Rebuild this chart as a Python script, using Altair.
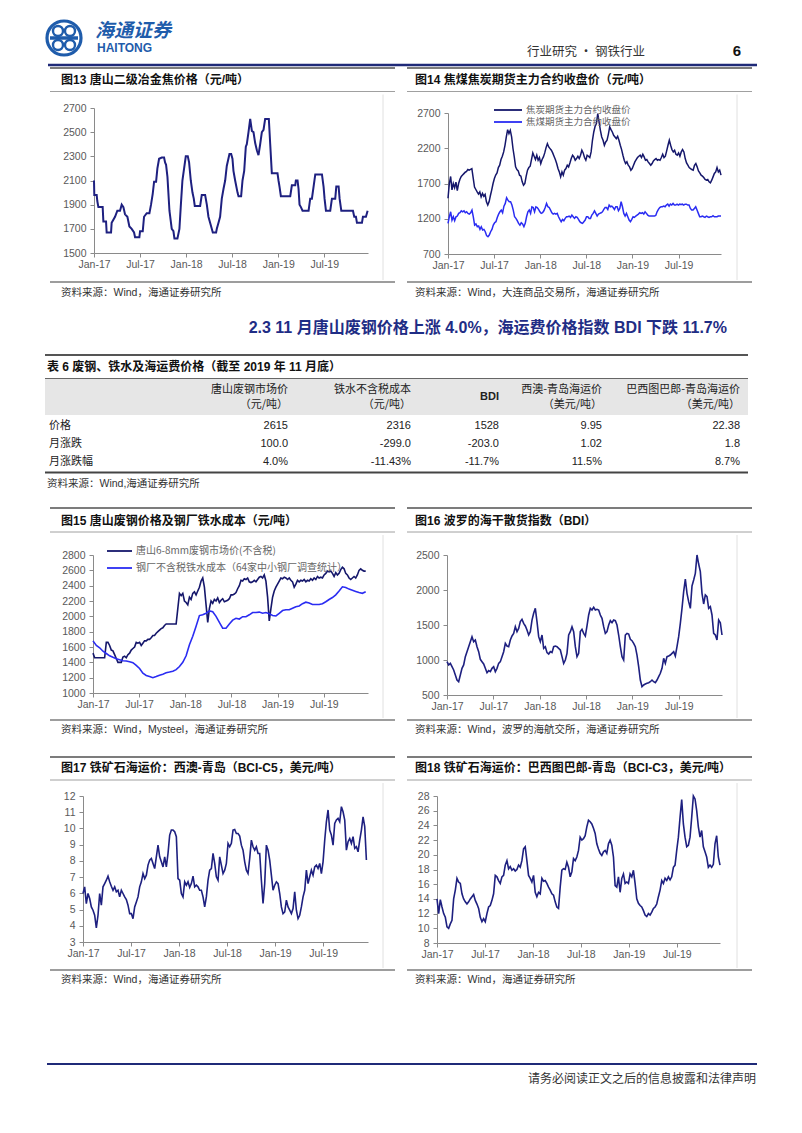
import altair as alt
import pandas as pd
import numpy as np

FONT = "Liberation Sans, Noto Sans CJK SC"
CJK = "Noto Sans CJK SC"
ONE = pd.DataFrame({"k": [0]})

# ---------------- data ----------------
TICK_MONTHS = [0, 6, 12, 18, 24, 30]
TICK_LABELS = ["Jan-17", "Jul-17", "Jan-18", "Jul-18", "Jan-19", "Jul-19"]

# Fig 13: months since Jan-2017, price
c13_month = [0, 0.04, 0.35, 0.43, 0.57, 1.13, 1.22, 1.57, 1.65, 2.22,
             2.30, 2.74, 3.04, 3.39, 3.61, 3.83, 4.04, 4.35, 4.61, 4.91,
             5.22, 5.35, 5.91, 6.00, 6.35, 6.52, 6.87, 7.22, 7.43, 7.65,
             7.83, 8.09, 8.26, 8.48, 8.83, 9.13, 9.26, 9.39, 9.57, 9.83,
             10.13, 10.35, 10.48, 10.87, 11.13, 11.30, 11.52, 11.74, 11.96, 12.22,
             12.39, 12.61, 12.83, 13.00, 13.13, 13.83, 14.04, 14.48, 14.70, 14.91,
             15.22, 15.48, 15.91, 16.00, 16.22, 16.43, 16.65, 16.87, 17.09, 17.30,
             17.65, 17.87, 18.04, 18.17, 18.39, 18.70, 18.83, 19.17, 19.35, 19.57,
             19.78, 19.91, 20.13, 20.35, 20.57, 20.78, 21.00, 21.22, 21.43, 21.65,
             21.87, 22.09, 22.30, 22.78, 22.96, 23.17, 23.91, 24.04, 24.17, 24.35,
             25.57, 25.78, 26.22, 26.30, 26.52, 26.65, 26.78, 26.96, 27.17, 27.96,
             28.17, 28.39, 28.61, 28.83, 29.70, 29.91, 30.04, 30.22, 30.78, 31.00,
             31.43, 31.57, 31.87, 32.00, 32.22, 33.74, 33.91, 34.13, 34.26, 34.91,
             35.04, 35.43, 35.65]
c13_price = [2100, 1980, 1980, 1930, 1880, 1880, 1760, 1760, 1670, 1670,
             1750, 1800, 1850, 1850, 1900, 1880, 1820, 1800, 1720, 1700,
             1670, 1630, 1630, 1680, 1680, 1800, 1830, 1830, 1900, 1990,
             2090, 2090, 2200, 2280, 2290, 2290, 2250, 2230, 2130, 1850,
             1700, 1680, 1620, 1620, 1700, 1880, 2100, 2200, 2300, 2300,
             2250, 2100, 2000, 1950, 1890, 1890, 1980, 1980, 1900, 1800,
             1730, 1670, 1670, 1700, 1750, 1800, 1950, 2030, 2100, 2220,
             2320, 2320, 2280, 2180, 2100, 2000, 1970, 1970, 2100, 2180,
             2380, 2400, 2500, 2610, 2510, 2500, 2410, 2350, 2310, 2400,
             2500, 2520, 2610, 2610, 2400, 2160, 2160, 2100, 2050, 1970,
             1970, 2060, 2060, 2100, 2100, 2030, 1900, 1880, 1850, 1850,
             1950, 1950, 2050, 2150, 2150, 2050, 1950, 1850, 1850, 1950,
             1950, 2050, 2050, 1950, 1850, 1850, 1800, 1800, 1750, 1750,
             1800, 1800, 1850]

# Fig 14: evenly spaced readings Jan-2017 .. early Dec-2019
c14_last_month = 35.53
c14_coke = [1490, 1700, 1800, 1610, 1700, 1640, 1720, 1600, 1700, 1760, 1800, 1820, 1840, 1860, 1870, 1900,
            1890, 1900, 1910, 1780, 1650, 1615, 1580, 1550, 1580, 1510, 1560, 1520, 1545, 1440, 1395, 1440,
            1530, 1610, 1700, 1770, 1820, 1850, 1926, 1959, 2040, 2087, 2148, 2242, 2360, 2464, 2408, 2455,
            2360, 2200, 2077, 1936, 1898, 1879, 1818, 1804, 1724, 1676, 1700, 1804, 1889, 1926, 1945, 2040,
            2134, 2087, 2040, 2101, 2030, 2068, 1983, 2040, 2077, 2134, 2209, 2266, 2219, 2195, 2172, 2134,
            2087, 2040, 1983, 1912, 1865, 1794, 1865, 1818, 1889, 1912, 1959, 1936, 1992, 2054, 2101, 2077,
            2030, 2054, 2087, 2054, 2101, 2172, 2134, 2068, 2030, 2101, 2087, 2068, 2148, 2313, 2431, 2511,
            2549, 2691, 2573, 2455, 2360, 2313, 2242, 2289, 2313, 2398, 2502, 2464, 2431, 2384, 2360, 2337,
            2370, 2313, 2242, 2181, 2101, 2030, 1983, 2007, 1959, 1936, 1889, 1912, 1959, 2007, 2040, 2068,
            2087, 2101, 2068, 2115, 2077, 2030, 2040, 2007, 1983, 1959, 1983, 2021, 2040, 2054, 2030, 2040,
            2030, 2068, 2115, 2068, 2087, 2162, 2242, 2313, 2242, 2181, 2148, 2172, 2115, 2101, 2134, 2087,
            2148, 2181, 2148, 2054, 1992, 1959, 1926, 1912, 1898, 1889, 1959, 1983, 1936, 1879, 1851, 1818,
            1804, 1785, 1757, 1747, 1757, 1724, 1710, 1747, 1794, 1842, 1865, 1926, 1865, 1889, 1818]
c14_coal = [1134, 1228, 1299, 1181, 1228, 1172, 1228, 1238, 1276, 1285, 1313, 1299, 1313, 1285, 1299, 1276,
            1266, 1285, 1323, 1228, 1110, 1125, 1087, 1096, 1049, 1087, 1040, 1049, 1016, 960, 945, 969,
            1016, 1049, 1110, 1143, 1158, 1219, 1266, 1299, 1323, 1285, 1379, 1417, 1497, 1464, 1441, 1441,
            1394, 1323, 1228, 1205, 1172, 1134, 1110, 1143, 1125, 1087, 1134, 1228, 1299, 1323, 1276, 1370,
            1360, 1299, 1370, 1360, 1332, 1299, 1276, 1285, 1313, 1360, 1417, 1370, 1360, 1323, 1285, 1266,
            1276, 1266, 1276, 1228, 1191, 1158, 1191, 1172, 1205, 1228, 1228, 1238, 1219, 1252, 1228, 1205,
            1228, 1219, 1191, 1158, 1143, 1134, 1158, 1181, 1228, 1228, 1205, 1205, 1252, 1276, 1313, 1276,
            1238, 1266, 1276, 1285, 1299, 1332, 1360, 1360, 1332, 1394, 1370, 1379, 1360, 1332, 1370, 1370,
            1313, 1346, 1441, 1370, 1276, 1238, 1276, 1228, 1181, 1158, 1191, 1228, 1219, 1238, 1252, 1266,
            1285, 1276, 1285, 1266, 1299, 1276, 1252, 1238, 1238, 1238, 1238, 1238, 1247, 1299, 1332, 1360,
            1370, 1370, 1379, 1370, 1394, 1407, 1379, 1407, 1394, 1417, 1394, 1394, 1407, 1394, 1407, 1403,
            1407, 1394, 1407, 1407, 1394, 1394, 1346, 1323, 1323, 1346, 1370, 1323, 1276, 1228, 1228, 1238,
            1228, 1219, 1238, 1228, 1219, 1228, 1228, 1243, 1228, 1228, 1228, 1238, 1238, 1238]

# Fig 15
c15_last_month = 35.45
c15_scrap = [1520, 1460, 1460, 1460, 1460, 1460, 1460, 1460, 1660, 1660, 1620, 1560, 1550, 1500, 1450, 1400,
             1400, 1400, 1470, 1480, 1460, 1500, 1520, 1560, 1580, 1600, 1660, 1650, 1660, 1620, 1650, 1680,
             1680, 1700, 1700, 1720, 1750, 1750, 1780, 1800, 1820, 1840, 1850, 1880, 1900, 1900, 1900, 1900,
             1900, 1900, 1900, 2100, 2300, 2270, 2300, 2200, 2180, 2150, 2250, 2220, 2300, 2320, 2280, 2330,
             2380, 2460, 2500, 2380, 2150, 1920, 2100, 2200, 2170, 2220, 2200, 2240, 2180, 2210, 2230, 2190,
             2200, 2210, 2230, 2280, 2280, 2290, 2310, 2360, 2400, 2470, 2460, 2490, 2480, 2500, 2450, 2440,
             2450, 2470, 2450, 2480, 2510, 2520, 2500, 2540, 2460, 2250, 1940, 2100, 2250, 2330, 2380, 2420,
             2460, 2500, 2490, 2510, 2500, 2480, 2500, 2470, 2450, 2380, 2420, 2470, 2450, 2470, 2460, 2480,
             2450, 2470, 2460, 2490, 2470, 2500, 2480, 2520, 2500, 2510, 2500, 2540, 2560, 2590, 2580, 2590,
             2560, 2520, 2570, 2540, 2560, 2610, 2640, 2620, 2560, 2540, 2500, 2480, 2500, 2520, 2500, 2540,
             2600, 2620, 2600, 2590, 2590]
c15_iron = [1680, 1620, 1590, 1545, 1515, 1485, 1465, 1448, 1435, 1420, 1418, 1408, 1395, 1360, 1320, 1258,
            1228, 1215, 1200, 1215, 1233, 1245, 1263, 1273, 1285, 1305, 1345, 1400, 1485, 1630, 1740, 1870,
            2010, 2020, 2040, 2070, 2060, 2000, 1920, 1845, 1845, 1900, 1950, 1975, 1965, 1995, 1995, 2020,
            2050, 2050, 2055, 2040, 2050, 2035, 2010, 2005, 2040, 2075, 2085, 2085, 2105, 2125, 2135, 2165,
            2185, 2175, 2155, 2155, 2155, 2165, 2190, 2220, 2245, 2280, 2330, 2385, 2375, 2355, 2340, 2325,
            2310, 2300, 2320]

# Fig 16 BDI
c16_last_month = 35.6
c16_bdi = [976, 929, 952, 905, 857, 786, 714, 690, 786, 881, 929, 1048, 1119, 1190, 1262, 1333, 1262, 1286,
           1190, 1119, 1010, 976, 943, 881, 819, 848, 833, 881, 905, 833, 881, 952, 976, 1048, 1119, 1238,
           1200, 1190, 1286, 1343, 1381, 1476, 1405, 1452, 1548, 1581, 1524, 1486, 1429, 1357, 1405, 1571,
           1667, 1738, 1548, 1333, 1262, 1357, 1167, 1190, 1105, 1086, 1119, 1105, 1190, 1200, 1190, 1167,
           1143, 1048, 952, 1000, 1095, 1357, 1405, 1476, 1405, 1190, 1048, 1095, 1405, 1438, 1381, 1343,
           1486, 1643, 1738, 1714, 1752, 1714, 1724, 1714, 1643, 1595, 1476, 1381, 1405, 1500, 1562, 1533,
           1571, 1562, 1500, 1357, 1190, 1048, 1000, 1357, 1381, 1371, 1295, 1276, 1238, 1190, 1071, 905,
           714, 619, 643, 657, 667, 676, 690, 714, 690, 676, 714, 762, 810, 881, 1024, 952, 1048, 1057,
           1071, 1095, 1119, 1057, 1190, 1333, 1524, 1738, 1976, 2157, 1952, 1833, 1738, 2057, 2143, 2238,
           2500, 2371, 2262, 1952, 1800, 1929, 1905, 1738, 1762, 1643, 1381, 1357, 1286, 1571, 1533, 1357]

# Fig 17 BCI-C5
c17_last_month = 35.4
c17_c5 = [5.99, 6.40, 5.37, 5.99, 5.68, 5.16, 4.96, 4.65, 3.87, 4.65, 5.99, 5.27, 6.40, 6.60, 6.81, 7.06,
          6.71, 6.44, 6.19, 6.40, 6.09, 6.19, 5.78, 6.19, 5.99, 5.78, 5.62, 5.27, 4.75, 4.75, 4.44, 5.16,
          5.47, 5.78, 6.40, 6.71, 7.22, 6.91, 7.12, 7.74, 8.05, 8.15, 7.84, 7.53, 8.25, 8.97, 8.25, 7.94,
          7.63, 8.25, 7.63, 8.46, 9.59, 9.90, 9.90, 9.80, 9.49, 6.91, 6.81, 5.99, 5.78, 6.71, 6.50, 6.71,
          6.36, 6.60, 7.06, 6.40, 6.50, 6.40, 6.19, 6.19, 5.78, 5.16, 5.78, 6.81, 7.43, 7.53, 8.46, 7.84,
          7.02, 6.81, 8.25, 7.74, 7.22, 7.43, 7.84, 9.08, 8.87, 9.08, 9.90, 9.94, 9.69, 9.69, 9.53, 8.97,
          8.66, 7.94, 7.43, 7.22, 8.15, 9.28, 8.87, 8.66, 8.87, 8.46, 8.46, 6.81, 5.37, 6.60, 8.97, 8.66,
          8.05, 7.12, 6.19, 6.50, 6.71, 6.60, 5.99, 5.16, 4.75, 4.85, 5.58, 5.16, 4.96, 4.75, 5.06, 6.09,
          4.96, 4.44, 4.65, 5.16, 5.78, 6.19, 7.43, 6.60, 7.02, 7.43, 7.12, 7.63, 7.74, 7.53, 7.84, 7.22,
          7.94, 9.28, 10.41, 11.14, 9.90, 9.59, 8.97, 10.31, 10.52, 10.62, 10.41, 11.34, 11.03, 10.52, 8.66, 9.18,
          9.38, 9.08, 9.49, 8.77, 8.87, 8.56, 9.28, 9.90, 10.72, 10.11, 8.05]

# Fig 18 BCI-C3
c18_last_month = 35.4
c18_c3 = [14.0, 12.0, 13.9, 12.9, 12.0, 11.5, 10.2, 10.0, 10.6, 11.1, 14.0, 15.2, 16.8, 16.3, 16.1, 14.7,
          14.0, 13.6, 13.3, 13.6, 14.0, 14.3, 14.6, 13.8, 13.3, 12.7, 11.5, 10.9, 11.3, 10.9, 12.0, 12.9,
          13.1, 13.8, 14.7, 17.2, 17.0, 16.5, 16.1, 17.0, 17.2, 18.6, 19.2, 18.1, 18.4, 17.9, 18.1, 17.8,
          18.0, 18.6, 18.3, 19.2, 20.8, 21.1, 19.2, 17.2, 16.8, 16.3, 17.2, 14.9, 14.3, 14.9, 14.7, 16.8,
          16.4, 16.5, 16.1, 15.6, 15.2, 14.7, 14.5, 13.6, 12.9, 12.7, 15.6, 17.9, 18.1, 18.0, 19.0, 18.3,
          17.0, 17.7, 19.5, 19.2, 19.7, 20.6, 22.4, 22.0, 22.2, 22.6, 23.8, 24.7, 24.5, 24.2, 23.6, 22.9,
          21.5, 20.8, 20.2, 19.9, 20.4, 20.6, 20.2, 21.5, 22.0, 21.3, 19.7, 15.8, 15.6, 17.0, 14.9, 16.8,
          17.4, 16.1, 16.3, 16.1, 17.4, 17.0, 17.9, 16.1, 14.0, 13.4, 13.1, 12.9, 12.4, 11.8, 11.6, 12.0,
          11.8, 12.2, 12.7, 12.9, 13.3, 14.3, 15.2, 16.5, 16.1, 16.8, 16.5, 17.0, 16.6, 17.0, 18.3, 18.6,
          20.6, 22.4, 25.1, 27.5, 24.2, 22.4, 21.1, 21.3, 22.4, 25.1, 28.0, 27.6, 26.0, 23.8, 22.4, 23.3,
          21.1, 20.4, 19.7, 18.3, 18.6, 18.3, 18.7, 21.5, 22.6, 19.7, 18.6]

# Table 6
tbl_col_line1 = ["唐山废钢市场价", "铁水不含税成本", "BDI", "西澳-青岛海运价", "巴西图巴郎-青岛海运价"]
tbl_col_line2 = ["（元/吨）", "（元/吨）", "", "（美元/吨）", "（美元/吨）"]
tbl_row_labels = ["价格", "月涨跌", "月涨跌幅"]
tbl_values = [["2615", "2316", "1528", "9.95", "22.38"],
              ["100.0", "-299.0", "-203.0", "1.02", "1.8"],
              ["4.0%", "-11.43%", "-11.7%", "11.5%", "8.7%"]]

# ---------------- style ----------------
NAVY = "#1e2080"
DARK = "#15176b"
BRIGHT = "#2a2cf2"
AXC = "#8a8a8a"
LBLC = "#595959"
LOGO = "#1f5cab"
RULE_BLUE = "#1f2a78"

LABEL_EXPR = "[" + ",".join("'%s'" % t for t in TICK_LABELS) + "][round(datum.value/6)]"


def txt(o, x, y, s, size=11, color="#222", weight="normal", align="left", font=FONT, style="normal"):
    return alt.Chart(ONE).mark_text(
        text=s, fontSize=size, color=color, fontWeight=weight, align=align,
        baseline="middle", font=font, fontStyle=style
    ).encode(x=alt.value(x - o[0]), y=alt.value(y - o[1]))


def hrule(o, x0, x1, y, color, w):
    return alt.Chart(ONE).mark_rule(color=color, strokeWidth=w).encode(
        x=alt.value(x0 - o[0]), x2=alt.value(x1 - o[0]), y=alt.value(y - o[1]))


def vrule(o, x, y0, y1, color, w):
    return alt.Chart(ONE).mark_rule(color=color, strokeWidth=w).encode(
        x=alt.value(x - o[0]), y=alt.value(y0 - o[1]), y2=alt.value(y1 - o[1]))


def ring(o, x, y, diam, color, w):
    return alt.Chart(ONE).mark_point(shape="circle", size=diam * diam, filled=False,
                                     strokeWidth=w, color=color, opacity=1).encode(
        x=alt.value(x - o[0]), y=alt.value(y - o[1]))


def blank(h):
    return alt.Chart(ONE).mark_point(opacity=0).encode(
        x=alt.value(100), y=alt.value(20)).properties(width=393, height=h)


def card(o, H, title, title_x, source, rules_x, rows_y, frame_x, plot, ydom, yticks, xend,
         series, legend=None, legend_size=10):
    top_y, title_y, under_y, bottom_y, source_y = rows_y
    rx0, rx1 = rules_x
    px0, px1, py0, py1 = plot
    layers = [
        hrule(o, rx0, rx1, top_y, "#7c7c7c", 2),
        txt(o, title_x, title_y, title, size=12, color="#111", weight="bold"),
        hrule(o, rx0, rx1, under_y, "#a0a0a0", 1),
        vrule(o, frame_x, under_y + 3, bottom_y - 2, "#e0e0e0", 1),
        hrule(o, rx0, rx1, bottom_y, "#7c7c7c", 1.5),
        txt(o, title_x, source_y, source, size=10.5, color="#333"),
    ]
    xs = alt.Scale(domain=[0, xend], range=[px0 - o[0], px1 - o[0]], nice=False, zero=False)
    ys = alt.Scale(domain=ydom, range=[py1 - o[1], py0 - o[1]], nice=False, zero=False)
    xa = alt.Axis(values=TICK_MONTHS, labelExpr=LABEL_EXPR, tickSize=4, tickColor=AXC,
                  domainColor=AXC, labelColor=LBLC, labelFont="Liberation Sans", labelFontSize=10.5,
                  labelPadding=2, grid=False, title=None, labelFlush=False, labelOverlap=False,
                  offset=-(H - (py1 - o[1])))
    ya = alt.Axis(values=yticks, format="d" if isinstance(yticks[0], int) else "", tickSize=4,
                  tickColor=AXC, domainColor=AXC, labelColor=LBLC, labelFont="Liberation Sans",
                  labelFontSize=10.5, labelPadding=4, grid=False, title=None, labelFlush=False,
                  labelOverlap=False, offset=-(px0 - o[0]))
    for months, values, color, width in series:
        df = pd.DataFrame({"m": months, "v": values})
        layers.append(alt.Chart(df).mark_line(color=color, strokeWidth=width).encode(
            x=alt.X("m:Q", scale=xs, axis=xa), y=alt.Y("v:Q", scale=ys, axis=ya)))
    if legend:
        for (lx0, lx1, ly, color, label) in legend:
            layers.append(hrule(o, lx0, lx1, ly, color, 1.8))
            layers.append(txt(o, lx1 + 4, ly, label, size=legend_size, color="#666", font=CJK))
    return alt.layer(*layers).properties(width=393, height=H)


# ---------------- header ----------------
oh = (8, 8)
header = alt.layer(
    ring(oh, 64, 38, 34, LOGO, 3.2),
    hrule(oh, 50, 78, 38, LOGO, 3.5),
    ring(oh, 58, 31, 10, LOGO, 2.4),
    ring(oh, 70, 31, 10, LOGO, 2.4),
    ring(oh, 58, 45, 10, LOGO, 2.4),
    ring(oh, 70, 45, 10, LOGO, 2.4),
    txt(oh, 95, 31, "海通证券", size=19, color=LOGO, weight="bold", font=CJK, style="italic"),
    txt(oh, 97, 48, "HAITONG", size=12, color=LOGO, weight="bold", font="Liberation Sans"),
    txt(oh, 527, 52, "行业研究 · 钢铁行业", size=12.5, color="#333", font=CJK),
    txt(oh, 737, 51, "6", size=15, color="#111", weight="bold", align="center"),
    hrule(oh, 48, 757, 65, RULE_BLUE, 2.5),
).properties(width=393, height=59)

# ---------------- row 2 ----------------
ROW2 = (68, 80, 91.5, 282, 293)
c13 = card((8, 67), 233, "图13 唐山二级冶金焦价格（元/吨）", 61, "资料来源：Wind，海通证券研究所",
           (50, 395), ROW2, 383, (94, 368, 108, 253), [1500, 2700],
           [1500, 1700, 1900, 2100, 2300, 2500, 2700], 35.7,
           [(c13_month, c13_price, NAVY, 2)])
c14 = card((401, 67), 233, "图14 焦煤焦炭期货主力合约收盘价（元/吨）", 415,
           "资料来源：Wind，大连商品交易所，海通证券研究所",
           (407, 752), ROW2, 737, (448, 721, 113, 254), [700, 2700],
           [700, 1200, 1700, 2200, 2700], 35.53,
           [(np.linspace(0, c14_last_month, len(c14_coke)), c14_coke, DARK, 1.5),
            (np.linspace(0, c14_last_month, len(c14_coal)), c14_coal, BRIGHT, 1.5)],
           legend=[(494, 522, 110, DARK, "焦炭期货主力合约收盘价"),
                   (494, 522, 122, BRIGHT, "焦煤期货主力合约收盘价")],
           legend_size=9.5)

# ---------------- table ----------------
ot = (8, 300)
col_right = [288, 411, 499, 602, 740]
row_y = [426, 444, 462]
tl = [
    txt(ot, 727, 328, "2.3 11 月唐山废钢价格上涨 4.0%，海运费价格指数 BDI 下跌 11.7%", size=16,
        color="#1f2d85", weight="bold", align="right"),
    hrule(ot, 45, 748, 355, "#555", 2),
    txt(ot, 47, 367, "表 6 废钢、铁水及海运费价格（截至 2019 年 11 月底）", size=12, color="#111", weight="bold"),
    alt.Chart(ONE).mark_rect(color="#e6e6e6").encode(
        x=alt.value(45 - ot[0]), x2=alt.value(748 - ot[0]),
        y=alt.value(379 - ot[1]), y2=alt.value(415 - ot[1])),
    hrule(ot, 45, 748, 378.5, "#666", 1),
    hrule(ot, 45, 748, 472.5, "#444", 2),
    txt(ot, 47, 484, "资料来源：Wind,海通证券研究所", size=10.5, color="#333"),
]
for i in range(5):
    if tbl_col_line2[i]:
        tl.append(txt(ot, col_right[i], 390, tbl_col_line1[i], size=11, color="#222", align="right", font=CJK))
        tl.append(txt(ot, col_right[i], 405, tbl_col_line2[i], size=11, color="#222", align="right", font=CJK))
    else:
        tl.append(txt(ot, col_right[i], 397, tbl_col_line1[i], size=11, color="#222", align="right",
                      weight="bold"))
for r in range(3):
    tl.append(txt(ot, 49, row_y[r], tbl_row_labels[r], size=11, color="#222", font=CJK))
    for i in range(5):
        tl.append(txt(ot, col_right[i], row_y[r], tbl_values[r][i], size=11, color="#222", align="right"))
table = alt.layer(*tl).properties(width=393, height=200)

# ---------------- row 4 ----------------
ROW4 = (508, 521, 532, 720, 730)
c15 = card((8, 500), 242, "图15 唐山废钢价格及钢厂铁水成本（元/吨）", 61, "资料来源：Wind，Mysteel，海通证券研究所",
           (50, 395), ROW4, 383, (93, 368, 555, 693), [1000, 2800],
           [1000, 1200, 1400, 1600, 1800, 2000, 2200, 2400, 2600, 2800], 35.75,
           [(np.linspace(0, c15_last_month, len(c15_scrap)), c15_scrap, DARK, 1.6),
            (np.linspace(0, c15_last_month, len(c15_iron)), c15_iron, BRIGHT, 1.6)],
           legend=[(107, 132, 551, DARK, "唐山6-8mm废钢市场价(不含税)"),
                   (107, 132, 568, BRIGHT, "钢厂不含税铁水成本（64家中小钢厂调查统计）")])
c16 = card((401, 500), 242, "图16 波罗的海干散货指数（BDI）", 415, "资料来源：Wind，波罗的海航交所，海通证券研究所",
           (407, 752), ROW4, 737, (447, 722, 555, 695), [500, 2500],
           [500, 1000, 1500, 2000, 2500], 35.6,
           [(np.linspace(0, c16_last_month, len(c16_bdi)), c16_bdi, NAVY, 1.6)])

# ---------------- row 5 ----------------
ROW5 = (757, 768, 780, 970, 980)
c17 = card((8, 742), 258, "图17 铁矿石海运价：西澳-青岛（BCI-C5，美元/吨）", 61, "资料来源：Wind，海通证券研究所",
           (50, 395), ROW5, 383, (83, 368, 796, 942), [3, 12],
           [3, 4, 5, 6, 7, 8, 9, 10, 11, 12], 35.6,
           [(np.linspace(0, c17_last_month, len(c17_c5)), c17_c5, NAVY, 1.6)])
c18 = card((401, 742), 258, "图18 铁矿石海运价：巴西图巴郎-青岛（BCI-C3，美元/吨）", 415, "资料来源：Wind，海通证券研究所",
           (407, 752), ROW5, 737, (437, 720, 796, 943), [8, 28],
           [8, 10, 12, 14, 16, 18, 20, 22, 24, 26, 28], 35.4,
           [(np.linspace(0, c18_last_month, len(c18_c3)), c18_c3, NAVY, 1.6)])

# ---------------- footer ----------------
of = (8, 1000)
footer = alt.layer(
    hrule(of, 47, 757, 1064, RULE_BLUE, 2),
    txt(of, 756, 1079, "请务必阅读正文之后的信息披露和法律声明", size=12, color="#333", align="right", font=CJK),
).properties(width=393, height=117)

chart = alt.concat(
    header, blank(59),
    c13, c14,
    table, blank(200),
    c15, c16,
    c17, c18,
    footer, blank(117),
    columns=2, spacing=0, bounds="flush",
).properties(padding=0, background="white").configure_view(stroke=None)

chart.save("out.html", embed_options={"renderer": "svg", "actions": False})
